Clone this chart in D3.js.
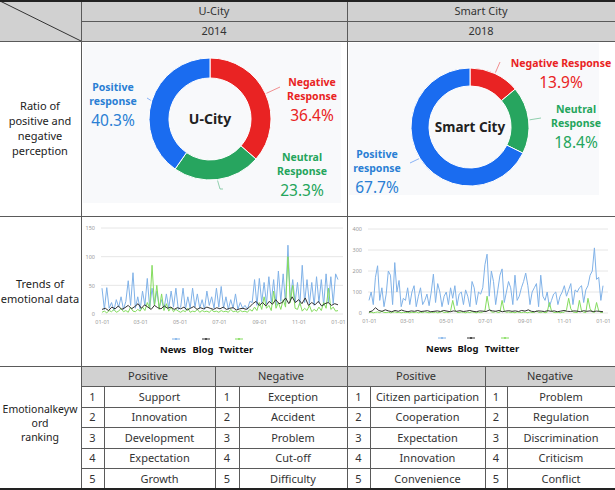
<!DOCTYPE html>
<html>
<head>
<meta charset="utf-8">
<script src="https://cdn.jsdelivr.net/npm/d3@7"></script>
<style>
body { margin: 0; background: #fff; }
svg { display: block; font-family: "Noto Sans", "Open Sans", sans-serif; }
</style>
</head>
<body>
<svg id="chart" width="615" height="490"></svg>
<script>
// ---- data ----
var cities = ["U-City", "Smart City"];
var years = ["2014", "2018"];
var rowLabels = [
    ["Ratio of", "positive and", "negative", "perception"],
    ["Trends of", "emotional data"],
    ["Emotionalkeyw", "ord", "ranking"]
];

// share of responses, clockwise from 12 o'clock: negative, neutral, positive
var sentimentKeys = ["Negative", "Neutral", "Positive"];
var sentimentNames = [["Negative", "Response"], ["Neutral", "Response"], ["Positive", "response"]];
var uCityShare = [36.4, 23.3, 40.3];
var smartShare = [13.9, 18.4, 67.7];

var seriesNames = ["News", "Blog", "Twitter"];

var uNews = [45, 8, 46, 10, 20, 6, 25, 12, 30, 8, 22, 58, 15, 72, 10, 30,
    8, 40, 15, 62, 10, 45, 15, 40, 12, 25, 8, 35, 10, 40, 12, 45, 8,
    12, 45, 8, 30, 10, 45, 12, 35, 10, 25, 8, 40, 15, 30, 10, 45,
    12, 48, 10, 30, 8, 25, 10, 35, 8, 20, 10, 15, 8, 22,
    20, 60, 15, 62, 20, 55, 18, 65, 20, 60, 15, 75, 22, 70, 18, 120, 25, 60, 20,
    55, 15, 85, 20, 60, 18, 55, 15, 65, 20, 60, 15, 70, 20, 65, 18, 70, 60];
var uBlog = [8, 10, 6, 12, 9, 14, 8, 11, 15, 9, 13, 18,
    10, 16, 12, 8, 15, 11, 9, 14, 10, 12, 8, 11,
    9, 12, 7, 10, 13, 8, 11, 9, 12, 10, 8, 11,
    9, 12, 8, 10, 11, 7, 9, 10, 8, 12, 18, 22,
    15, 20, 14, 22, 17, 25, 18, 20, 28, 18, 30, 20, 25,
    18, 28, 15, 20, 16, 22, 14, 18, 20, 15, 18, 16];
var uTwitter = [3, 5, 2, 6, 4, 8, 3, 5, 10, 4, 6, 3, 12, 5, 4, 8,
    5, 12, 6, 20, 10, 85, 15, 50, 8, 35, 6, 18, 5, 12, 4, 8, 5,
    3, 6, 4, 10, 3, 5, 4, 8, 3, 6, 4, 5, 3, 7, 4, 5,
    3, 6, 4, 5, 3, 8, 4, 5, 3, 6, 4, 5, 3, 8,
    5, 12, 6, 20, 8, 30, 10, 15, 6, 40, 10, 20, 8, 25, 12, 100, 20, 50, 10,
    8, 20, 5, 10, 6, 15, 4, 8, 5, 12, 6, 20, 10, 45, 8, 12, 5, 6];

var sNews = [60, 100, 40, 170, 225, 60, 120, 30, 90, 200, 180, 40, 240, 100, 155, 30, 70, 60,
    120, 40, 100, 130, 30, 80, 120, 40, 60, 90, 35, 100, 185, 50, 140, 100, 30, 80,
    100, 40, 120, 70, 130, 35, 90, 100, 40, 110, 80, 30, 150, 120, 40, 100, 90, 120,
    230, 280, 80, 200, 150, 40, 110, 180, 210, 50, 100, 150, 120, 40, 180, 60, 80, 120, 150,
    190, 130, 40, 100, 120, 140, 30, 180, 80, 60, 100, 30, 60, 90, 100, 40, 80, 100,
    130, 80, 110, 140, 40, 110, 100, 120, 130, 50, 110, 130, 180, 200, 310, 160, 170, 60, 130];
var sBlog = [5, 10, 25, 12, 8, 15, 10, 6, 12, 8, 14, 9, 6, 10, 8, 12, 7, 9, 11, 6,
    8, 10, 7, 12, 9, 6, 10, 8, 11, 7, 9, 12, 8, 6, 10, 9, 7, 14, 10, 8,
    12, 6, 9, 11, 8, 10, 7, 12, 9, 15, 8, 6, 10, 9, 7, 11, 8, 10, 6, 9,
    12, 8, 7, 10, 9, 6, 11, 8, 10, 7, 9, 8, 6];
var sTwitter = [2, 4, 1, 3, 5, 2, 8, 3, 2, 4, 1, 3, 6, 2, 4, 1, 3, 2,
    3, 1, 4, 2, 5, 1, 3, 2, 6, 3, 1, 4, 2, 5, 1, 3, 8, 2,
    4, 2, 10, 60, 15, 3, 2, 5, 3, 1, 4, 2, 6, 3, 1, 4, 2, 5,
    10, 80, 20, 5, 3, 8, 2, 4, 60, 10, 3, 5, 2, 4, 1, 6, 3, 2, 4,
    3, 1, 5, 2, 4, 10, 3, 2, 6, 1, 4, 50, 10, 3, 2, 5, 1, 3,
    4, 15, 70, 20, 5, 3, 2, 60, 10, 4, 2, 70, 20, 5, 3, 50, 10, 2, 4];

var rankHeads = ["Positive", "Negative", "Positive", "Negative"];
var uPositive = ["Support", "Innovation", "Development", "Expectation", "Growth"];
var uNegative = ["Exception", "Accident", "Problem", "Cut-off", "Difficulty"];
var sPositive = ["Citizen participation", "Cooperation", "Expectation", "Innovation", "Convenience"];
var sNegative = ["Problem", "Regulation", "Discrimination", "Criticism", "Conflict"];

// ---- styles ----
var sentimentColor = {Negative: "#e92323", Neutral: "#27a55f", Positive: "#1a6cf0"};
var labelColor = {Negative: "#e92323", Neutral: "#24a55c", Positive: "#2a7fd4"};
var seriesColor = {News: "#80b2e8", Blog: "#333333", Twitter: "#84dc5e"};
var lineColor = "#5a5a5a", headFill = "#d1d1d1", textColor = "#333";

var svg = d3.select("#chart");

// ---- table frame ----
var colX = [0, 81, 347, 615];
var rankRowH = 20.6;

svg.append("rect").attr("x", 0).attr("y", 1).attr("width", 615).attr("height", 40).attr("fill", headFill);
svg.append("rect").attr("x", 81).attr("y", 366).attr("width", 534).attr("height", 20).attr("fill", headFill);

// faint panel background behind the donuts
svg.append("rect").attr("x", 83).attr("y", 43).attr("width", 258).attr("height", 160).attr("fill", "#f8f9fb");
svg.append("rect").attr("x", 349).attr("y", 43).attr("width", 250).attr("height", 152).attr("fill", "#f8f9fb");

// ---- donuts ----
var donuts = [
    {share: uCityShare, cx: 210, cy: 119, r0: 41, r1: 61, title: "U-City", size: 14,
        labels: [
            {x: 312, y: 86, one: false, tx: 280, ty: 87},
            {x: 302, y: 161, one: false, tx: 223, ty: 189, elbow: true},
            {x: 113, y: 91, one: false, tx: 147, ty: 98}
        ]},
    {share: smartShare, cx: 470, cy: 127, r0: 41, r1: 59, title: "Smart City", size: 13.5,
        labels: [
            {x: 561, y: 67, one: true, tx: 500, ty: 62},
            {x: 576, y: 113, one: false, tx: 541, ty: 118},
            {x: 377, y: 158, one: false, tx: 410, ty: 163}
        ]}
];

var pie = d3.pie().sort(null).value(function (d) { return d; });

donuts.forEach(function (dn) {
    var g = svg.append("g").attr("transform", "translate(" + dn.cx + "," + dn.cy + ")");
    var arc = d3.arc().innerRadius(dn.r0).outerRadius(dn.r1);
    var arcs = pie(dn.share);
    g.selectAll("path").data(arcs).enter().append("path")
        .attr("d", arc)
        .attr("fill", function (d, i) { return sentimentColor[sentimentKeys[i]]; })
        .attr("stroke", "#fff").attr("stroke-width", 1);
    g.append("text").attr("text-anchor", "middle").attr("y", 5)
        .attr("font-size", dn.size).attr("font-weight", "bold").attr("fill", "#222")
        .text(dn.title);

    arcs.forEach(function (a, i) {
        var key = sentimentKeys[i], lb = dn.labels[i];
        var mid = (a.startAngle + a.endAngle) / 2;
        var sx = dn.cx + (dn.r1 + 1) * Math.sin(mid), sy = dn.cy - (dn.r1 + 1) * Math.cos(mid);
        var pts = [[sx, sy]];
        if (lb.elbow) pts.push([lb.tx - 3, lb.ty]);
        pts.push([lb.tx, lb.ty]);
        svg.append("path").attr("d", d3.line()(pts)).attr("fill", "none")
            .attr("stroke", sentimentColor[key]).attr("stroke-opacity", 0.5).attr("stroke-width", 1);

        var t = svg.append("text").attr("text-anchor", "middle").attr("fill", labelColor[key])
            .attr("font-weight", "bold").attr("font-size", 10.5);
        var y = lb.y;
        if (lb.one) {
            t.append("tspan").attr("x", lb.x).attr("y", y).text(sentimentNames[i].join(" "));
        } else {
            t.append("tspan").attr("x", lb.x).attr("y", y).text(sentimentNames[i][0]);
            t.append("tspan").attr("x", lb.x).attr("y", y + 14).text(sentimentNames[i][1]);
            y += 14;
        }
        svg.append("text").attr("x", lb.x).attr("y", y + 21).attr("text-anchor", "middle")
            .attr("fill", labelColor[key]).attr("font-size", 15.5)
            .text(dn.share[i].toFixed(1) + "%");
    });
});

// ---- trend charts ----
var panels = [
    {series: [uNews, uBlog, uTwitter], year: 2014, yMax: 150, yStep: 50,
        x0: 102, x1: 338, yTop: 228, yBottom: 314, legend: [176, 206, 239], legendY: 339},
    {series: [sNews, sBlog, sTwitter], year: 2018, yMax: 400, yStep: 100,
        x0: 369, x1: 603, yTop: 229, yBottom: 313, legend: [442, 471, 505], legendY: 338}
];

panels.forEach(function (p) {
    var start = new Date(p.year, 0, 1), end = new Date(p.year + 1, 0, 1);
    var x = d3.scaleTime().domain([start, end]).range([p.x0, p.x1]);
    var y = d3.scaleLinear().domain([0, p.yMax]).range([p.yBottom, p.yTop]);
    var g = svg.append("g");

    var yTicks = d3.range(0, p.yMax + 1, p.yStep);
    g.selectAll(".grid").data(yTicks).enter().append("line")
        .attr("x1", p.x0 - 1).attr("x2", p.x1 + 5)
        .attr("y1", function (d) { return y(d); }).attr("y2", function (d) { return y(d); })
        .attr("stroke", "#e6e6e6").attr("stroke-width", 1);

    var yAxis = g.append("g").attr("transform", "translate(" + (p.x0 - 7) + ",0)")
        .call(d3.axisLeft(y).tickValues(yTicks).tickSize(0).tickPadding(0));
    yAxis.select(".domain").remove();
    yAxis.selectAll("text").attr("fill", "#999").attr("font-size", 5.5).attr("font-family", "Noto Sans");

    var xAxis = g.append("g").attr("transform", "translate(0," + (p.yBottom + 6) + ")")
        .call(d3.axisBottom(x).ticks(d3.timeMonth.every(2)).tickFormat(d3.timeFormat("%m-%d")).tickSize(0).tickPadding(0));
    xAxis.select(".domain").remove();
    xAxis.selectAll("text").attr("fill", "#999").attr("font-size", 5.5).attr("font-family", "Noto Sans");

    var span = end - start;
    function lineFor(vals) {
        var n = vals.length;
        return d3.line()
            .x(function (d, i) { return x(new Date(start.getTime() + span * i / (n - 1))); })
            .y(function (d) { return y(d); });
    }
    // news first, then twitter, blog on top
    [0, 2, 1].forEach(function (si) {
        var vals = p.series[si];
        g.append("path").datum(vals).attr("d", lineFor(vals)).attr("fill", "none")
            .attr("stroke", seriesColor[seriesNames[si]]).attr("stroke-width", 1)
            .attr("stroke-linejoin", "round");
    });

    seriesNames.forEach(function (name, i) {
        var lx = p.legend[i];
        g.append("line").attr("x1", lx - 4).attr("x2", lx + 4).attr("y1", p.legendY).attr("y2", p.legendY)
            .attr("stroke", seriesColor[name]).attr("stroke-width", 1);
        g.append("circle").attr("cx", lx).attr("cy", p.legendY).attr("r", 1).attr("fill", seriesColor[name]);
        g.append("text").attr("x", lx - 3).attr("y", p.legendY + 14).attr("text-anchor", "middle")
            .attr("font-size", 9.5).attr("font-weight", "bold").attr("fill", "#111").text(name);
    });
});

// ---- ranking tables ----
var rankCols = [
    {x0: 81, xn: 104, x1: 215, words: uPositive},
    {x0: 215, xn: 239, x1: 347, words: uNegative},
    {x0: 347, xn: 370, x1: 485, words: sPositive},
    {x0: 485, xn: 507, x1: 615, words: sNegative}
];
rankCols.forEach(function (c, ci) {
    svg.append("text").attr("x", (c.x0 + c.x1) / 2).attr("y", 380).attr("text-anchor", "middle")
        .attr("font-size", 11).attr("fill", textColor).text(rankHeads[ci]);
    c.words.forEach(function (w, i) {
        var ty = 386 + rankRowH * i + 14.5;
        svg.append("text").attr("x", (c.x0 + c.xn) / 2).attr("y", ty).attr("text-anchor", "middle")
            .attr("font-size", 11).attr("fill", textColor).text(i + 1);
        svg.append("text").attr("x", (c.xn + c.x1) / 2).attr("y", ty).attr("text-anchor", "middle")
            .attr("font-size", 11).attr("fill", textColor).text(w);
    });
    svg.append("line").attr("x1", c.xn + 0.5).attr("x2", c.xn + 0.5).attr("y1", 386).attr("y2", 489)
        .attr("stroke", lineColor).attr("stroke-width", 1);
});
d3.range(1, 5).forEach(function (i) {
    var yy = Math.round(386 + rankRowH * i) + 0.5;
    svg.append("line").attr("x1", 81).attr("x2", 615).attr("y1", yy).attr("y2", yy)
        .attr("stroke", lineColor).attr("stroke-width", 1);
});
[215, 485].forEach(function (xx) {
    svg.append("line").attr("x1", xx + 0.5).attr("x2", xx + 0.5).attr("y1", 366).attr("y2", 489)
        .attr("stroke", lineColor).attr("stroke-width", 1);
});
svg.append("line").attr("x1", 81).attr("x2", 615).attr("y1", 386.5).attr("y2", 386.5)
    .attr("stroke", lineColor).attr("stroke-width", 1);

// ---- header texts ----
cities.forEach(function (c, i) {
    var cx = (colX[i + 1] + colX[i + 2]) / 2;
    svg.append("text").attr("x", cx).attr("y", 15).attr("text-anchor", "middle")
        .attr("font-size", 11).attr("fill", textColor).text(c);
    svg.append("text").attr("x", cx).attr("y", 35).attr("text-anchor", "middle")
        .attr("font-size", 11).attr("fill", textColor).text(years[i]);
});

// ---- row labels ----
var labelMid = [(41 + 216) / 2, (216 + 366) / 2, 423];
var labelGap = [15, 15, 14];
var labelSize = [11, 11, 10.5];
rowLabels.forEach(function (lines, r) {
    var t = svg.append("text").attr("text-anchor", "middle").attr("font-size", labelSize[r]).attr("fill", "#222");
    var top = labelMid[r] - (lines.length - 1) * labelGap[r] / 2 + 4;
    lines.forEach(function (l, k) {
        t.append("tspan").attr("x", 40).attr("y", top + k * labelGap[r]).text(l);
    });
});

// ---- grid lines ----
svg.append("line").attr("x1", 81).attr("x2", 615).attr("y1", 21.5).attr("y2", 21.5)
    .attr("stroke", lineColor).attr("stroke-width", 1);
[41, 216, 366].forEach(function (yy) {
    svg.append("line").attr("x1", 0).attr("x2", 615).attr("y1", yy + 0.5).attr("y2", yy + 0.5)
        .attr("stroke", lineColor).attr("stroke-width", 1);
});
[81, 347].forEach(function (xx) {
    svg.append("line").attr("x1", xx + 0.5).attr("x2", xx + 0.5).attr("y1", 1).attr("y2", 489)
        .attr("stroke", lineColor).attr("stroke-width", 1);
});
svg.append("line").attr("x1", 0).attr("y1", 1).attr("x2", 81).attr("y2", 41)
    .attr("stroke", "#333").attr("stroke-width", 1);
[1, 489].forEach(function (yy) {
    svg.append("line").attr("x1", 0).attr("x2", 615).attr("y1", yy).attr("y2", yy)
        .attr("stroke", "#222").attr("stroke-width", 2);
});
</script>
</body>
</html>
